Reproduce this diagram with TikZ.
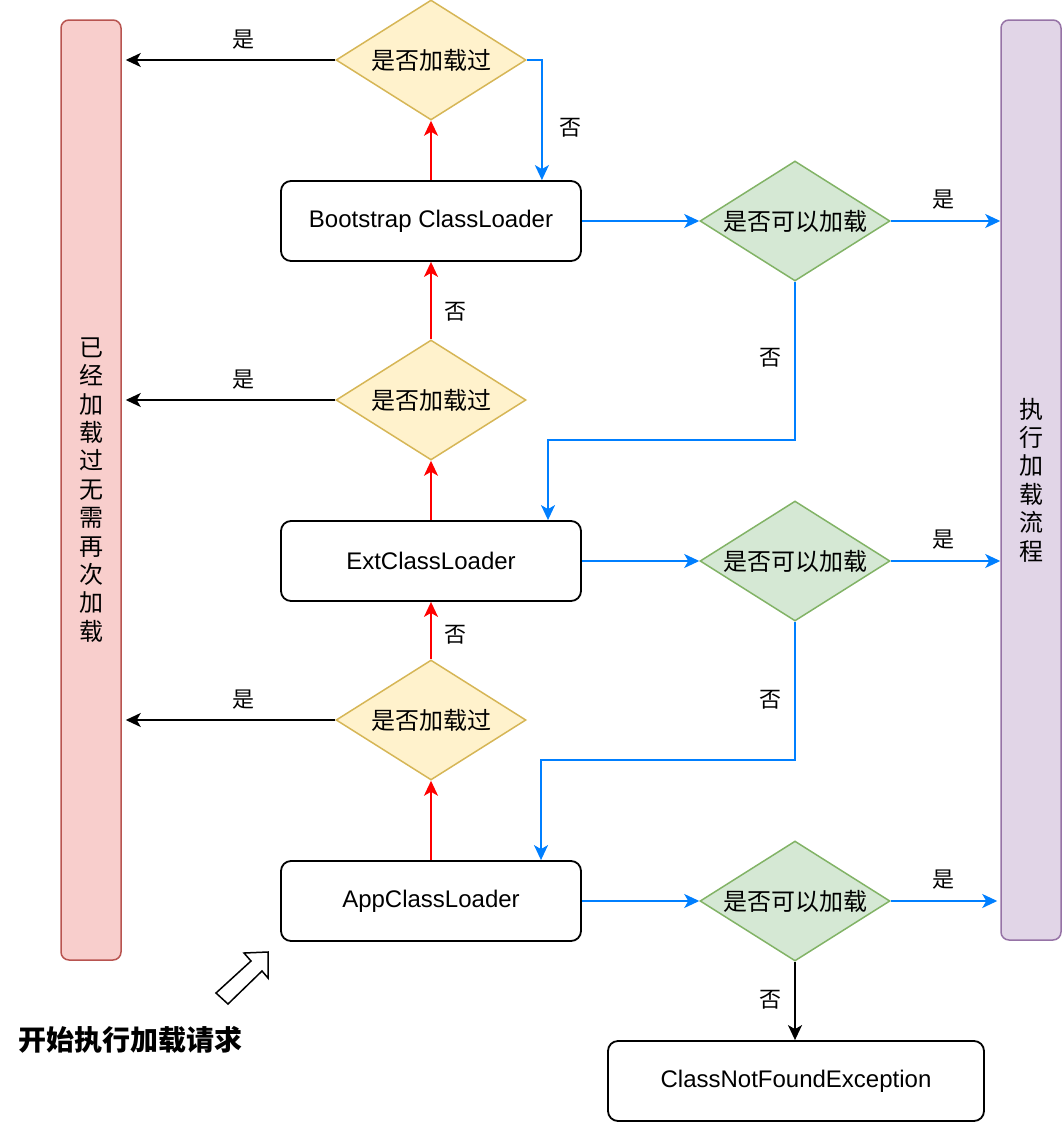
\documentclass[tikz,border=0pt]{standalone}
\usepackage{fontspec}
\setmainfont{Liberation Sans}
\newfontfamily\cjk{Noto Sans CJK SC}
\usetikzlibrary{shapes.geometric,arrows.meta}

\definecolor{yfill}{HTML}{FFF2CC}
\definecolor{ydraw}{HTML}{D6B656}
\definecolor{gfill}{HTML}{D5E8D4}
\definecolor{gdraw}{HTML}{82B366}
\definecolor{rfill}{HTML}{F8CECC}
\definecolor{rdraw}{HTML}{B85450}
\definecolor{pfill}{HTML}{E1D5E7}
\definecolor{pdraw}{HTML}{9673A6}
\definecolor{flowblue}{HTML}{007FFF}

\tikzset{
 loader/.style={draw,line width=1.8pt,rounded corners=10pt,minimum width=300pt,minimum height=80pt,inner sep=0pt,font=\fontsize{24}{28}\selectfont},
 askdone/.style={diamond,aspect=1.58,draw=ydraw,fill=yfill,line width=1.5pt,minimum width=190pt,minimum height=120pt,inner sep=0pt,font=\cjk\fontsize{24}{28}\selectfont},
 askload/.style={askdone,draw=gdraw,fill=gfill},
 bar/.style={draw,line width=1.5pt,rounded corners=8pt,minimum width=60pt,inner sep=0pt,align=center,font=\cjk\fontsize{24}{28.4}\selectfont},
 lbl/.style={font=\cjk\fontsize{22}{26}\selectfont,inner sep=0pt},
 tip/.style={-{Stealth[length=15pt,width=14pt,inset=4pt]},line width=1.8pt},
 upred/.style={tip,red},
 goblue/.style={tip,flowblue},
 goblack/.style={tip,black}
}

\begin{document}
\begin{tikzpicture}[x=1pt,y=-1pt]
 \useasboundingbox (0,0) rectangle (1062,1122);
 % side bars
 \node[bar,draw=rdraw,fill=rfill,minimum height=940pt] (done) at (91,490) {已\\经\\加\\载\\过\\无\\需\\再\\次\\加\\载};
 \node[bar,draw=pdraw,fill=pfill,minimum height=920pt] (run) at (1031,480) {执\\行\\加\\载\\流\\程};
 % class loaders
 \node[loader] (boot) at (431,221) {Bootstrap ClassLoader};
 \node[loader] (ext) at (431,561) {ExtClassLoader};
 \node[loader] (app) at (431,901) {AppClassLoader};
 \node[loader,minimum width=376pt] (cnfe) at (796,1081) {ClassNotFoundException};
 % checks
 \node[askdone] (d1) at (431,60) {是否加载过};
 \node[askdone] (d2) at (431,400) {是否加载过};
 \node[askdone] (d3) at (431,720) {是否加载过};
 \node[askload] (c1) at (795,221) {是否可以加载};
 \node[askload] (c2) at (795,561) {是否可以加载};
 \node[askload] (c3) at (795,901) {是否可以加载};

 % delegate upwards
 \draw[upred] (app.north) -- (d3.south);
 \draw[upred] (d3.north) -- (ext.south);
 \draw[upred] (ext.north) -- (d2.south);
 \draw[upred] (d2.north) -- (boot.south);
 \draw[upred] (boot.north) -- (d1.south);
 % already loaded
 \draw[goblack] (d1.west) -- ([xshift=4pt]d1.west -| done.east);
 \draw[goblack] (d2.west) -- ([xshift=4pt]d2.west -| done.east);
 \draw[goblack] (d3.west) -- ([xshift=4pt]d3.west -| done.east);
 % try to load
 \draw[goblue] (d1.east) -| ([xshift=-40pt]boot.north east);
 \draw[goblue] (boot.east) -- (c1.west);
 \draw[goblue] (ext.east) -- (c2.west);
 \draw[goblue] (app.east) -- (c3.west);
 \draw[goblue] (c1.east) -- (c1.east -| run.west);
 \draw[goblue] (c2.east) -- (c2.east -| run.west);
 \draw[goblue] (c3.east) -- ([xshift=-3pt]c3.east -| run.west);
 \coordinate (k1) at (548,440);
 \coordinate (k2) at (541,760);
 \draw[goblue] (c1.south) |- (k1) -- (k1 |- ext.north);
 \draw[goblue] (c2.south) |- (k2) -- (k2 |- app.north);
 \draw[goblack] (c3.south) -- (c3.south |- cnfe.north);

 % labels
 \node[lbl] (y1) at (243,40) {是};
 \node[lbl] (y2) at (243,380) {是};
 \node[lbl] (y3) at (243,700) {是};
 \node[lbl] (y4) at (943,200) {是};
 \node[lbl] (y5) at (943,540) {是};
 \node[lbl] (y6) at (943,880) {是};
 \node[lbl] (n1) at (570,128) {否};
 \node[lbl] (n2) at (455,312) {否};
 \node[lbl] (n3) at (455,635) {否};
 \node[lbl] (n4) at (770,358) {否};
 \node[lbl] (n5) at (770,700) {否};
 \node[lbl] (n6) at (770,1000) {否};

 % start
 \draw[line width=1.5pt,fill=white,line join=miter] (268,952) -- (268,978) -- (262,971) -- (228,1004) -- (216,993) -- (251,961) -- (244,953) -- cycle;
 \node[font=\cjk\bfseries\fontsize{28}{31}\selectfont] (start) at (131,1040) {开始执行加载请求};
\end{tikzpicture}
\end{document}
